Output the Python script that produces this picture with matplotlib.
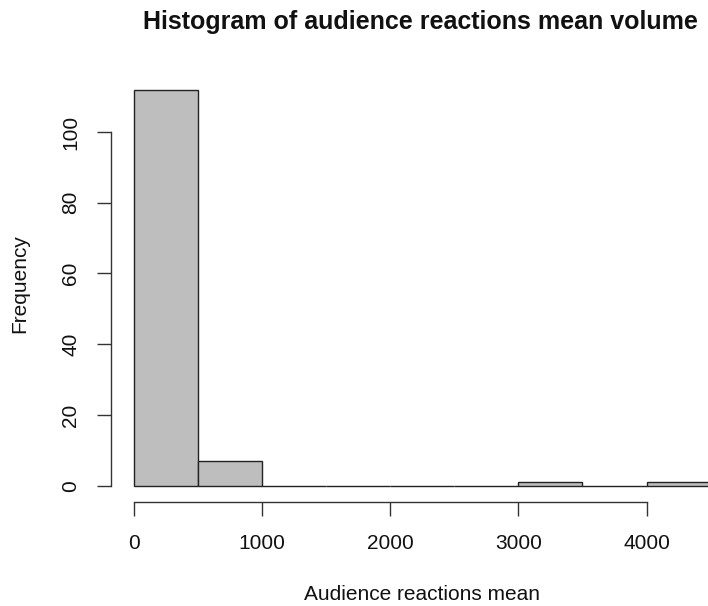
import matplotlib
matplotlib.use("Agg")
import matplotlib.pyplot as plt
import numpy as np

# Data
breaks = [0, 500, 1000, 1500, 2000, 2500, 3000, 3500, 4000, 4500]
counts = [112, 7, 0, 0, 0, 0, 1, 0, 1]
xticks = [0, 1000, 2000, 3000, 4000]
yticks = [0, 20, 40, 60, 80, 100]
title = "Histogram of audience reactions mean volume"
xlabel = "Audience reactions mean"
ylabel = "Frequency"

plt.rcParams['font.family'] = ['Liberation Sans', 'DejaVu Sans']

W, H = 708, 606
fig = plt.figure(figsize=(W / 100, H / 100), dpi=100)

left_px, right_px = 110.6, 733.7
top_px, bottom_px = 73.7, 501.6
ax = fig.add_axes([left_px / W, 1 - bottom_px / H,
                   (right_px - left_px) / W, (bottom_px - top_px) / H])

lefts = breaks[:-1]
widths = np.diff(breaks)
ax.bar(lefts, counts, width=widths, align='edge', color='#BEBEBE',
       edgecolor='#222222', linewidth=1.0)

ax.set_xlim(-180, 4680)
ax.set_ylim(-4.48, 116.48)

for s in ['top', 'right']:
    ax.spines[s].set_visible(False)
ax.spines['left'].set_bounds(0, 100)
ax.spines['bottom'].set_bounds(0, 4000)
for s in ['left', 'bottom']:
    ax.spines[s].set_color('#333333')
    ax.spines[s].set_linewidth(1.0)

ax.set_xticks(xticks)
ax.set_yticks(yticks)
ax.set_xticklabels([str(v) for v in xticks])
ax.set_yticklabels([str(v) for v in yticks], rotation=90, va='center')
ax.tick_params(axis='both', length=10, width=1.0, color='#333333',
               labelsize=15, labelcolor='#111111')
ax.tick_params(axis='x', pad=13)
ax.tick_params(axis='y', pad=12)

fig.text(420 / W, 1 - 29 / H, title, ha='center', va='baseline',
         fontsize=18, fontweight='bold', color='#111111')
fig.text(422 / W, 1 - 600 / H, xlabel, ha='center', va='baseline',
         fontsize=15, color='#111111')
fig.text(20 / W, 1 - 284 / H, ylabel, ha='center', va='center',
         fontsize=15, rotation=90, color='#111111')

fig.savefig("out.png", dpi=100)
